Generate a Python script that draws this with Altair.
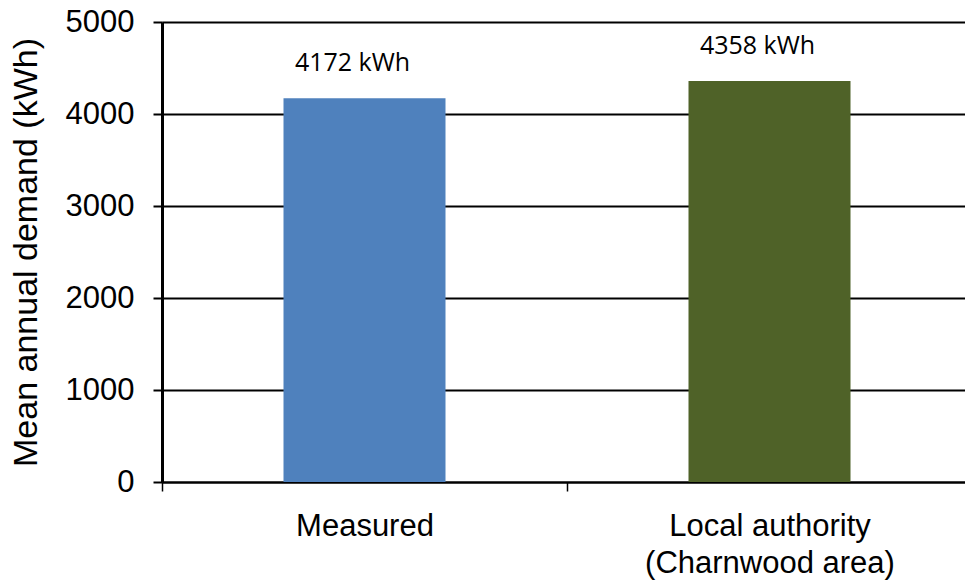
import altair as alt
import pandas as pd

# Mean annual electricity demand, measured vs local authority figure
categories = ["Measured", "Local authority (Charnwood area)"]
demand_kwh = [4172, 4358]
bar_colors = ["#4F81BD", "#4F6228"]

df = pd.DataFrame({
    "category": categories,
    "demand": demand_kwh,
    "label": [f"{v} kWh" for v in demand_kwh],
})

FONT = "Liberation Sans"

x_scale = alt.Scale(domain=categories, range=[0, 810], paddingInner=0, paddingOuter=0)

x_enc = alt.X(
    "category:N",
    sort=categories,
    scale=x_scale,
    axis=alt.Axis(
        title=None,
        labelAngle=0,
        labelFont=FONT,
        labelFontSize=31,
        labelColor="black",
        labelPadding=20,
        labelLineHeight=37,
        labelLimit=0,
        labelExpr="datum.label == 'Local authority (Charnwood area)' ? ['Local authority', '(Charnwood area)'] : datum.label",
        domainColor="black",
        domainWidth=2,
        tickColor="black",
        tickWidth=1.5,
        tickSize=9,
        tickBand="extent",
        grid=False,
    ),
)

y_enc = alt.Y(
    "demand:Q",
    scale=alt.Scale(domain=[0, 5000], nice=False),
    axis=alt.Axis(
        title="Mean annual demand (kWh)",
        titleFont=FONT,
        titleFontSize=34,
        titleFontWeight="normal",
        titleColor="black",
        titlePadding=22,
        values=[0, 1000, 2000, 3000, 4000, 5000],
        format="d",
        labelFont=FONT,
        labelFontSize=31,
        labelColor="black",
        labelPadding=19,
        domainColor="black",
        domainWidth=3,
        tickColor="black",
        tickWidth=2,
        tickSize=9,
        grid=True,
        gridColor="black",
        gridWidth=2,
        gridOpacity=1,
    ),
)

bars = alt.Chart(df).mark_bar(size=162).encode(
    x=x_enc,
    y=y_enc,
    color=alt.Color("category:N", scale=alt.Scale(domain=categories, range=bar_colors), legend=None),
)

labels = alt.Chart(df).mark_text(
    font="Open Sans", fontSize=25, color="black", dx=-12, dy=-35, baseline="middle"
).encode(
    x=alt.X("category:N", sort=categories, scale=x_scale),
    y=alt.Y("demand:Q"),
    text="label:N",
)

chart = (
    alt.layer(bars, labels)
    .properties(
        width=803,
        height=460,
        autosize=alt.AutoSizeParams(type="none"),
        padding={"left": 162, "top": 22, "right": 0, "bottom": 98},
    )
    .configure_view(stroke=None)
    .configure(background="white")
)

chart.save("out.html", embed_options={"renderer": "svg", "actions": False})
